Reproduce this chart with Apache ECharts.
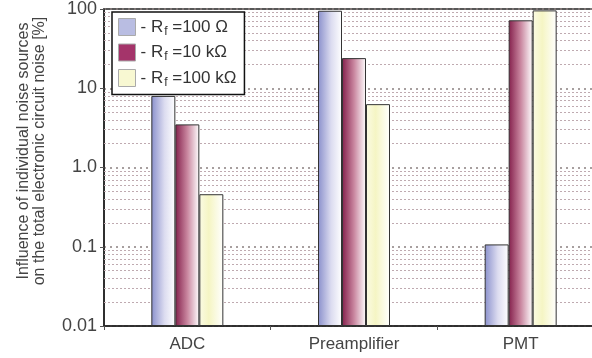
<!DOCTYPE html>
<html>
<head>
    <meta charset="utf-8">
    <script type="text/javascript" src="https://cdn.jsdelivr.net/npm/echarts@6/dist/echarts.min.js"></script>
    <title>Noise sources</title>
</head>
<body style="margin:0;overflow:hidden">
    <!-- the plot runs past the right edge in the original, so the chart is wider than the window -->
    <div id="container" style="width:612px;height:358px;"></div>
    <script type="text/javascript">
    // data
    var categories = ['ADC', 'Preamplifier', 'PMT'];
    var seriesNames = ['Rf=100 Ω', 'Rf=10 kΩ', 'Rf=100 kΩ'];
    var legendText = [' =100 Ω', ' =10 kΩ', ' =100 kΩ'];
    var rf100 = [8.0, 95, 0.107];
    var rf10k = [3.5, 24, 72];
    var rf100k = [0.46, 6.3, 96];
    var yTicks = [0.01, 0.1, 1, 10, 100];
    var yTickLabels = ['0.01', '0.1', '1.0', '10', '100'];

    var font = 'Liberation Sans, Arial, sans-serif';

    // minor dotted grid lines at 2..9 of each decade
    var minorLines = [];
    for (var d = 0; d < yTicks.length - 1; d++) {
        for (var k = 2; k <= 9; k++) {
            minorLines.push({ yAxis: yTicks[d] * k });
        }
    }

    function grad(stops) {
        return new echarts.graphic.LinearGradient(0, 0, 1, 0, stops.map(function (s) {
            return { offset: s[0], color: s[1] };
        }));
    }

    var fills = [
        grad([[0, '#8a90cc'], [0.55, '#dcdcf0'], [1, '#ffffff']]),
        grad([[0, '#84204c'], [0.5, '#c9869f'], [1, '#ffffff']]),
        grad([[0, '#fbfbe4'], [0.4, '#f5f5c4'], [1, '#ffffff']])
    ];
    var swatches = ['#b9bde2', '#a4346a', '#f8f8d2'];

    var myChart = echarts.init(document.getElementById('container'));

    var series = [rf100, rf10k, rf100k].map(function (vals, i) {
        var s = {
            name: seriesNames[i],
            type: 'bar',
            data: vals,
            barWidth: 24,
            barGap: 0,
            itemStyle: { color: fills[i], borderColor: '#333', borderWidth: 1 },
            z: 3
        };
        if (i === 0) {
            s.markLine = {
                silent: true,
                symbol: 'none',
                label: { show: false },
                lineStyle: { color: '#bfaab0', type: [2, 2], width: 1 },
                data: minorLines,
                z: 1
            };
        }
        return s;
    });

    var option = {
        animation: false,
        textStyle: { fontFamily: font },
        grid: {
            left: 104, right: 8, top: 9, bottom: 32,
            show: true, borderColor: '#222', borderWidth: 1.5, backgroundColor: '#fff'
        },
        legend: {
            orient: 'vertical',
            left: 112, top: 12,
            padding: [6, 8, 6, 6],
            itemGap: 6,
            itemWidth: 17, itemHeight: 17,
            backgroundColor: '#fff',
            borderColor: '#111', borderWidth: 1.5,
            data: seriesNames.map(function (n, i) {
                return { name: n, icon: 'rect', itemStyle: { color: swatches[i], borderColor: '#aaa', borderWidth: 1 } };
            }),
            formatter: function (name) {
                return '- R{sub|f}' + legendText[seriesNames.indexOf(name)];
            },
            textStyle: {
                fontFamily: font, fontSize: 17, color: '#333',
                rich: { sub: { fontSize: 12, padding: [9, 0, 0, 1], fontFamily: font, color: '#333' } }
            }
        },
        graphic: [{
            type: 'text',
            x: 32, y: 151,
            rotation: Math.PI / 2,
            style: {
                text: 'Influence of individual noise sources\non the total electronic circuit noise [%]',
                font: '16px ' + font,
                fill: '#444',
                lineHeight: 16,
                align: 'center',
                verticalAlign: 'middle'
            }
        }],
        xAxis: {
            type: 'category',
            data: categories,
            axisLine: { lineStyle: { color: '#222', width: 1.5 } },
            axisTick: { show: true, length: 4, lineStyle: { color: '#555' } },
            axisLabel: { fontSize: 17, color: '#444', margin: 10, fontFamily: font }
        },
        yAxis: {
            type: 'log',
            logBase: 10,
            min: 0.01,
            max: 100,
            startValue: 0.01,
            axisLine: { show: true, lineStyle: { color: '#222', width: 1.5 } },
            axisTick: { show: true, length: 4, lineStyle: { color: '#555' } },
            axisLabel: {
                fontSize: 18, color: '#444', margin: 7, fontFamily: font,
                formatter: function (v) {
                    var i = yTicks.findIndex(function (t) { return Math.abs(Math.log10(t) - Math.log10(v)) < 1e-6; });
                    return i >= 0 ? yTickLabels[i] : '';
                }
            },
            splitLine: { show: true, lineStyle: { color: '#8a8080', type: [2, 4], width: 1.5 } }
        },
        series: series
    };

    myChart.setOption(option);
    </script>
</body>
</html>
